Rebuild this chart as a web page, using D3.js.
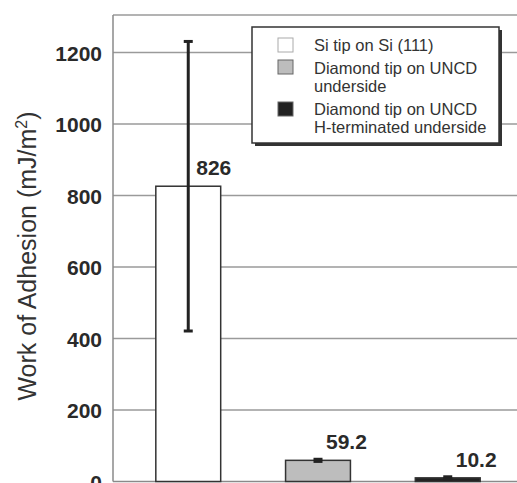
<!DOCTYPE html>
<html><head><meta charset="utf-8">
<script src="https://cdn.jsdelivr.net/npm/d3@7"></script>
<style>body{margin:0;background:#fff}svg{display:block}</style>
</head><body>
<svg id="c" width="517" height="483"></svg>
<script>
const categories = ["Si tip on Si (111)", "Diamond tip on UNCD underside", "Diamond tip on UNCD H-terminated underside"];
const legendLines = [["Si tip on Si (111)"], ["Diamond tip on UNCD", "underside"], ["Diamond tip on UNCD", "H-terminated underside"]];
const values = [826, 59.2, 10.2];
const valueLabels = ["826", "59.2", "10.2"];
const errors = [405, 3, 3];
const fills = ["#ffffff", "#bdbdbd", "#222222"];
const yTicks = [0, 200, 400, 600, 800, 1000, 1200];

(function () {
const svg = d3.select("#c");
const mLeft = 113, mTop = 15, mRight = 517, mBottom = 481.5;
const y = d3.scaleLinear().domain([0, 1305]).range([mBottom, mTop]);
const x = d3.scaleBand().domain(categories).range([mLeft, 523]).paddingInner(0.5).paddingOuter(0.33);
const font = "Liberation Sans, Arial, sans-serif";

// gridlines
svg.append("g").selectAll("line").data(yTicks.filter(d => d > 0)).join("line")
  .attr("x1", mLeft).attr("x2", mRight).attr("y1", d => y(d)).attr("y2", d => y(d))
  .attr("stroke", "#9a9a9a").attr("stroke-width", 1.5);

// frame
svg.append("line").attr("x1", mLeft).attr("x2", mRight).attr("y1", mTop).attr("y2", mTop).attr("stroke", "#9a9a9a").attr("stroke-width", 1.5);
svg.append("line").attr("x1", mLeft).attr("x2", mLeft).attr("y1", mTop).attr("y2", mBottom).attr("stroke", "#8a8a8a").attr("stroke-width", 1.5);
svg.append("line").attr("x1", mLeft).attr("x2", mRight).attr("y1", mBottom).attr("y2", mBottom).attr("stroke", "#8a8a8a").attr("stroke-width", 1.5);

// y axis labels
const yAxis = d3.axisLeft(y).tickValues(yTicks).tickSize(0).tickPadding(11).tickFormat(d3.format("d"));
const ga = svg.append("g").attr("transform", `translate(${mLeft},0)`).call(yAxis);
ga.select(".domain").remove();
ga.selectAll("text").attr("font-family", font).attr("font-size", 21).attr("font-weight", "bold").attr("fill", "#2a2a2a").attr("dy", "0.36em");

// bars
svg.append("g").selectAll("rect").data(values).join("rect")
  .attr("x", (d, i) => x(categories[i])).attr("width", x.bandwidth())
  .attr("y", d => y(d)).attr("height", d => y(0) - y(d))
  .attr("fill", (d, i) => fills[i]).attr("stroke", "#333").attr("stroke-width", 1.5);

// error bars
const eb = svg.append("g").attr("stroke", "#222");
values.forEach((v, i) => {
  const cx = x(categories[i]) + x.bandwidth() / 2;
  eb.append("line").attr("x1", cx).attr("x2", cx).attr("y1", y(v + errors[i])).attr("y2", y(v - errors[i])).attr("stroke-width", 3);
  [v + errors[i], v - errors[i]].forEach(e => {
    eb.append("line").attr("x1", cx - 4.5).attr("x2", cx + 4.5).attr("y1", y(e)).attr("y2", y(e)).attr("stroke-width", 3);
  });
});

// value labels
svg.append("g").selectAll("text").data(values).join("text")
  .attr("x", (d, i) => x(categories[i]) + x.bandwidth() / 2 + 8)
  .attr("y", d => y(d) - 11)
  .attr("font-family", font).attr("font-size", 21).attr("font-weight", "bold").attr("fill", "#2a2a2a")
  .text((d, i) => valueLabels[i]);

// y title
svg.append("text").attr("transform", "translate(36,256) rotate(-90)").attr("text-anchor", "middle")
  .attr("font-family", font).attr("font-size", 25).attr("fill", "#333")
  .html('Work of Adhesion (mJ/m<tspan dy="-9" font-size="16">2</tspan><tspan dy="9">)</tspan>');

// legend
const lg = svg.append("g");
lg.append("rect").attr("x", 255).attr("y", 30).attr("width", 247).attr("height", 116).attr("fill", "#333");
lg.append("rect").attr("x", 252).attr("y", 27).attr("width", 247).attr("height", 116).attr("fill", "#fff").attr("stroke", "#333").attr("stroke-width", 1.5);
const swY = [38, 60, 102];
const lineY = [[51], [73.5, 92], [114.5, 133]];
categories.forEach((c, i) => {
  lg.append("rect").attr("x", 278).attr("y", swY[i]).attr("width", 15).attr("height", 14)
    .attr("fill", fills[i]).attr("stroke", i === 0 ? "#aaa" : "#666").attr("stroke-width", 1);
  legendLines[i].forEach((t, j) => {
    lg.append("text").attr("x", 314).attr("y", lineY[i][j])
      .attr("font-family", font).attr("font-size", 16.5).attr("fill", "#333").text(t);
  });
});
})();
</script>
</body></html>
